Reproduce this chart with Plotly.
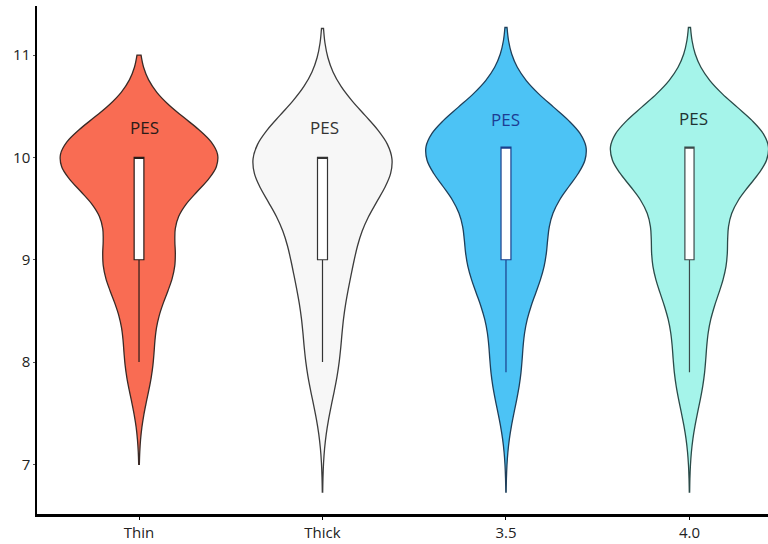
import numpy as np
import plotly.graph_objects as go

# Groups shown on the x axis
categories = ["Thin", "Thick", "3.5", "4.0"]

# PES score frequency tables for each group (score value -> number of responses)
thin_scores = [8.0, 8.7, 9.0, 10.0]
thin_counts = [5, 2, 12, 31]

thick_scores = [8.0, 8.5, 9.0, 9.5, 10.0]
thick_counts = [8, 2, 13, 3, 39]

s35_scores = [7.9, 8.5, 9.0, 9.5, 10.1]
s35_counts = [5, 2, 12, 4, 30]

s40_scores = [7.9, 8.5, 9.0, 9.5, 10.1]
s40_counts = [5, 2, 12, 2, 30]

y_ticks = [7, 8, 9, 10, 11]
label_text = "PES"

groups = [
    (thin_scores, thin_counts),
    (thick_scores, thick_counts),
    (s35_scores, s35_counts),
    (s40_scores, s40_counts),
]

# Per-violin styling and kernel settings
styles = [
    dict(fill="#F96C53", line="#3a2a26", box_line="#2a1d1a", text="#2b1b18",
         bw=0.37, span=[7.0, 11.0], width=0.856, box_w=0.062, shift=5, ty=10.29),
    dict(fill="#F7F7F7", line="#3c3c3c", box_line="#333333", text="#333333",
         bw=0.437, span=[6.73, 11.26], width=0.757, box_w=0.072, shift=2, ty=10.29),
    dict(fill="#4CC3F5", line="#1f3f5a", box_line="#1b3f8c", text="#1d3c94",
         bw=0.40, span=[6.73, 11.27], width=0.872, box_w=0.062, shift=0, ty=10.37),
    dict(fill="#A5F4EA", line="#2b4a48", box_line="#3a4a4a", text="#1f3332",
         bw=0.40, span=[6.73, 11.27], width=0.861, box_w=0.058, shift=4, ty=10.38),
]

fig = go.Figure()

for i, (cat, (scores, counts), st) in enumerate(zip(categories, groups, styles)):
    values = np.repeat(scores, counts)
    fig.add_trace(go.Violin(
        x=[cat] * len(values),
        y=values,
        name=cat,
        fillcolor=st["fill"],
        opacity=1,
        line=dict(color=st["line"], width=1.3),
        bandwidth=st["bw"],
        spanmode="manual",
        span=st["span"],
        width=st["width"],
        scalemode="width",
        points=False,
        meanline_visible=False,
        box=dict(visible=True, width=st["box_w"], fillcolor="white",
                 line=dict(color=st["box_line"], width=1.2)),
        hoverinfo="skip",
        showlegend=False,
    ))
    # label inside each violin, placed by category index
    fig.add_annotation(
        x=i, y=st["ty"], xref="x", yref="y",
        text=label_text, showarrow=False, xshift=st["shift"],
        font=dict(family="Open Sans", size=17, color=st["text"]),
    )

fig.update_layout(
    width=768, height=544,
    margin=dict(l=37, r=0, t=6, b=30, autoexpand=False),
    paper_bgcolor="white", plot_bgcolor="white",
    violinmode="overlay",
    font=dict(family="Open Sans", size=15, color="#222222"),
    showlegend=False,
)

fig.update_xaxes(
    type="category", categoryorder="array", categoryarray=categories,
    range=[-0.556, 3.428],
    showline=True, linecolor="black", linewidth=3,
    ticks="outside", ticklen=3, tickwidth=1, tickcolor="black",
    showgrid=False, zeroline=False,
    tickfont=dict(size=15, color="#222222"),
)
fig.update_yaxes(
    range=[6.515, 11.48],
    tickvals=y_ticks,
    showline=True, linecolor="black", linewidth=1.5,
    ticks="outside", ticklen=2, tickwidth=1, tickcolor="#555555",
    showgrid=False, zeroline=False,
    tickfont=dict(size=15, color="#222222"),
)

fig.write_html("out.html")
